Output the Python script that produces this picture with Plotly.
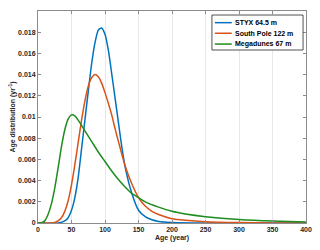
import plotly.graph_objects as go

# STYX 64.5 m
styx_x = [0, 30, 40, 45, 50, 55, 60, 65, 70, 75, 80, 85, 90, 95, 100, 105, 110, 115, 120, 125, 130, 140, 150, 160, 170, 180, 200, 250, 300, 400]
styx_y = [0, 0, 0.0002, 0.0005, 0.0012, 0.0024, 0.0043, 0.0070, 0.0097, 0.0124, 0.0150, 0.0170, 0.0182, 0.0184, 0.0178, 0.0163, 0.0141, 0.0118, 0.0095, 0.0072, 0.0053, 0.0028, 0.0012, 0.0006, 0.0003, 0.00015, 0.00005, 0, 0, 0]

# South Pole 122 m
sp_x = [0, 20, 25, 30, 35, 40, 45, 50, 55, 60, 65, 70, 75, 80, 85, 90, 95, 100, 105, 110, 115, 120, 130, 140, 150, 160, 170, 180, 200, 220, 250, 300, 350, 400]
sp_y = [0, 0, 0.00005, 0.0002, 0.0005, 0.0011, 0.0021, 0.0036, 0.0055, 0.0076, 0.0097, 0.0115, 0.0129, 0.0137, 0.0140, 0.0138, 0.0132, 0.0123, 0.0113, 0.0102, 0.0089, 0.0077, 0.0054, 0.0037, 0.0024, 0.0016, 0.0011, 0.0008, 0.0004, 0.00025, 0.00012, 0.00004, 0.00001, 0]

# Megadunes 67 m
mg_x = [0, 5, 10, 15, 20, 25, 30, 35, 40, 45, 50, 55, 60, 70, 80, 90, 100, 110, 120, 130, 140, 150, 160, 180, 200, 220, 250, 300, 350, 400]
mg_y = [0, 0.00002, 0.0002, 0.0008, 0.0018, 0.0033, 0.0052, 0.0072, 0.0088, 0.0098, 0.0102, 0.0101, 0.0097, 0.0087, 0.0077, 0.0067, 0.0058, 0.0049, 0.0041, 0.0034, 0.0028, 0.0024, 0.0020, 0.0015, 0.0011, 0.00085, 0.0006, 0.00033, 0.00018, 0.0001]

series_names = ["STYX 64.5 m", "South Pole 122 m", "Megadunes 67 m"]
colors = ["#0072BD", "#D95319", "#1E8C1E"]

x_ticks = [0, 50, 100, 150, 200, 250, 300, 350, 400]
y_ticks = [0, 0.002, 0.004, 0.006, 0.008, 0.01, 0.012, 0.014, 0.016, 0.018, 0.02]
y_ticktext = ["0", "0.002", "0.004", "0.006", "0.008", "0.01", "0.012", "0.014", "0.016", "0.018", "0.02"]

fig = go.Figure()
for xs, ys, name, c in zip([styx_x, sp_x, mg_x], [styx_y, sp_y, mg_y], series_names, colors):
    fig.add_trace(go.Scatter(x=xs, y=ys, mode="lines", name=name, showlegend=False,
                             line=dict(color=c, width=1.5, shape="spline", smoothing=0.6)))

# manual compact legend (paper coordinates)
leg_x0, leg_x1, leg_y0, leg_y1 = 0.649, 0.989, 0.816, 0.981
row_y = [0.945, 0.895, 0.844]
shapes = [dict(type="rect", xref="paper", yref="paper", x0=leg_x0, x1=leg_x1, y0=leg_y0, y1=leg_y1,
               line=dict(color="#262626", width=0.8), fillcolor="white", layer="above")]
annotations = []
for name, c, ry in zip(series_names, colors, row_y):
    shapes.append(dict(type="line", xref="paper", yref="paper", x0=0.660, x1=0.723, y0=ry, y1=ry,
                       line=dict(color=c, width=1.5), layer="above"))
    annotations.append(dict(xref="paper", yref="paper", x=0.727, y=ry, xanchor="left", yanchor="middle",
                            text="<b>" + name + "</b>", showarrow=False,
                            font=dict(family="Liberation Sans, Arial, sans-serif", size=7, color="#000000")))

font = dict(family="Liberation Sans, Arial, sans-serif", size=7, color="#262626")
# the page body adds an 8px margin; size the figure to compensate
fig.update_layout(
    width=312, height=242,
    margin=dict(l=30, r=14, t=3, b=27),
    paper_bgcolor="white", plot_bgcolor="white",
    font=font,
    showlegend=False,
    shapes=shapes,
    annotations=annotations,
)
fig.update_xaxes(range=[0, 400], tickvals=x_ticks, showgrid=True, gridcolor="#e8e8e8", gridwidth=1,
                 showline=True, linecolor="#8c8c8c", linewidth=1, mirror="ticks",
                 ticks="inside", ticklen=3, tickcolor="#8c8c8c", zeroline=False,
                 tickfont=dict(size=7, weight="bold", color="#262626"),
                 title=dict(text="<b>Age (year)</b>", font=dict(size=7), standoff=2))
fig.update_yaxes(range=[0, 0.02], tickvals=y_ticks, ticktext=y_ticktext, showgrid=False,
                 showline=True, linecolor="#8c8c8c", linewidth=1, mirror="ticks",
                 ticks="inside", ticklen=3, tickcolor="#8c8c8c", zeroline=False,
                 tickfont=dict(size=7, weight="bold", color="#262626"),
                 title=dict(text="<b>Age distribution (yr<sup>-1</sup>)</b>", font=dict(size=7), standoff=3))

fig.write_html("out.html")
